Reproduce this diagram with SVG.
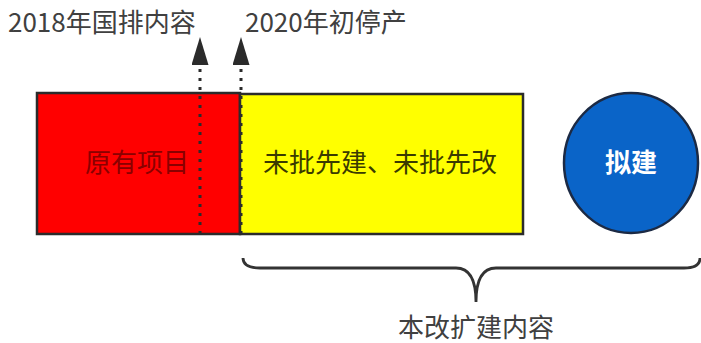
<svg xmlns="http://www.w3.org/2000/svg" width="701" height="343" viewBox="0 0 701 343">
<style>
.t{font-family:"Noto Sans CJK SC","Microsoft YaHei",sans-serif;font-size:26px;}
.lbl{fill:#404040;}
.box{stroke:#2b2b2b;stroke-width:2.5;}
.dot{stroke:#2b2b2b;stroke-width:3;stroke-dasharray:3 6;fill:none;}
</style>
<defs>
<marker id="ah" viewBox="0 0 28 17" refX="0" refY="8.5" markerWidth="28" markerHeight="17" markerUnits="userSpaceOnUse" orient="auto">
<path d="M0,0 L28,8.5 L0,17 z" fill="#2b2b2b"/>
</marker>
</defs>
<rect width="701" height="343" fill="#ffffff"/>
<g id="label-2018"><text class="t lbl" x="8" y="32">2018年国排内容</text></g>
<g id="label-2020"><text class="t lbl" x="245" y="32">2020年初停产</text></g>
<g id="existing">
<rect class="box" x="37" y="93" width="203" height="141" fill="#ff0000"/>
<text class="t" x="137" y="172" text-anchor="middle" fill="#8a0000">原有项目</text>
</g>
<g id="unapproved">
<rect class="box" x="240" y="94" width="283" height="140" fill="#ffff00"/>
<text class="t" x="380" y="172" text-anchor="middle" fill="#3a3a00">未批先建、未批先改</text>
</g>
<g id="planned">
<ellipse cx="631" cy="163" rx="67" ry="70" fill="#0a64c8" stroke="#1c2a44" stroke-width="2.5"/>
<text class="t" x="631" y="172" text-anchor="middle" fill="#ffffff" font-weight="bold">拟建</text>
</g>
<g id="connectors">
<line class="dot" x1="200" y1="234" x2="200" y2="65" marker-end="url(#ah)"/>
<line class="dot" x1="241" y1="234" x2="241" y2="65" marker-end="url(#ah)"/>
<path d="M243,258 Q243,268 260,268 L456,268 Q476,268 476,302 Q476,268 496,268 L684,268 Q700,268 700,258" fill="none" stroke="#333333" stroke-width="2.8"/>
</g>
<g id="label-scope"><text class="t lbl" x="476" y="337" text-anchor="middle">本改扩建内容</text></g>
</svg>
